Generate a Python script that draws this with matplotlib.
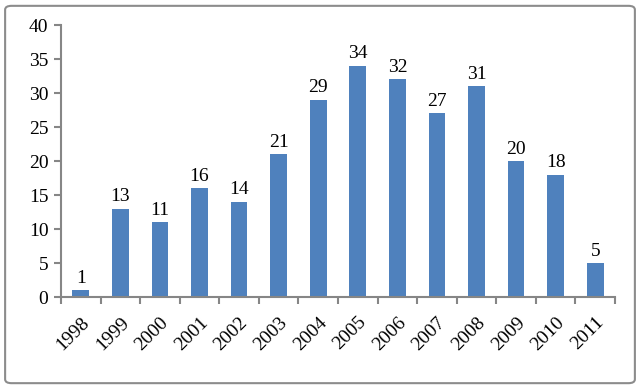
import numpy as np
import matplotlib
matplotlib.use('Agg')
import matplotlib.pyplot as plt
from matplotlib.patches import FancyBboxPatch

years = ['1998', '1999', '2000', '2001', '2002', '2003', '2004',
         '2005', '2006', '2007', '2008', '2009', '2010', '2011']
counts = [1, 13, 11, 16, 14, 21, 29, 34, 32, 27, 31, 20, 18, 5]

plt.rcParams['font.family'] = ['Liberation Serif', 'DejaVu Serif']
axis_gray = '#868686'

fig = plt.figure(figsize=(6.4, 3.89), dpi=100)
ax = fig.add_axes([0.0953, 0.2365, 0.8657, 0.6992])

x = np.arange(len(years))
ax.bar(x, counts, width=0.42, color='#4F81BD')
for xi, v in zip(x, counts):
    ax.text(xi, v + 0.5, str(v), ha='center', va='bottom', fontsize=14)

ax.set_xlim(-0.5, len(years) - 0.5)
ax.set_ylim(0, 40)
ax.set_yticks(range(0, 41, 5))
ax.tick_params(axis='y', labelsize=14, length=5, width=1.5, color=axis_gray, pad=4)

ax.set_xticks(x)
ax.set_xticklabels(years, rotation=45, ha='right', rotation_mode='anchor', fontsize=14)
ax.tick_params(axis='x', which='major', length=0, pad=12)
ax.set_xticks(np.arange(-0.5, len(years), 1), minor=True)
ax.tick_params(axis='x', which='minor', length=5, width=1.5, color=axis_gray)

for side in ['top', 'right']:
    ax.spines[side].set_visible(False)
for side in ['left', 'bottom']:
    ax.spines[side].set_color(axis_gray)
    ax.spines[side].set_linewidth(1.5)

border = FancyBboxPatch((0.008, 0.015), 0.984, 0.97, boxstyle='round,pad=0,rounding_size=0.01',
                        transform=fig.transFigure, fill=False, edgecolor='#8c8c8c', linewidth=1.5)
fig.patches.append(border)

fig.savefig('out.png', dpi=100)
